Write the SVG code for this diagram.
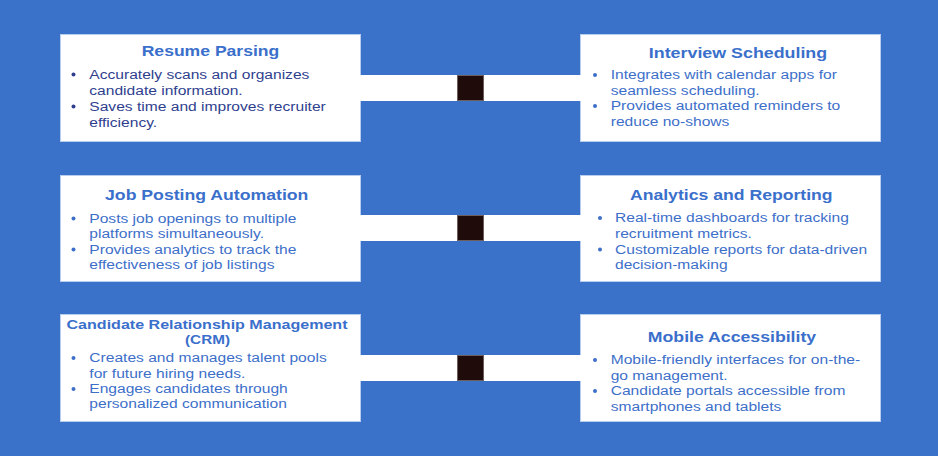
<svg xmlns="http://www.w3.org/2000/svg" width="938" height="456" viewBox="0 0 938 456">
<style>
.bg{fill:#3a71c9}
.box{fill:#ffffff;stroke:#b9cdef;stroke-width:1}
.band{fill:#ffffff}
.sq{fill:#1f0c0a;stroke:#6e5e5c;stroke-width:1}
.t{font-family:"Liberation Sans",Arial,sans-serif;font-weight:700;font-size:15px;fill:#3a6fcb;text-anchor:middle}
.tc{font-size:13px}
.b{font-family:"Liberation Sans",Arial,sans-serif;font-size:13.5px;fill:#3d6fc9}
.bd{fill:#3d6fc9}
.navy .b{fill:#2f3f8e}
.navy .bd{fill:#2f3f8e}
</style>
<rect class="bg" x="0" y="0" width="938" height="456"/>
<g id="connectors">
<rect class="band" x="360" y="75" width="221" height="26"/>
<rect class="sq" x="457.5" y="75.5" width="26" height="25"/>
<rect class="band" x="360" y="215" width="221" height="26"/>
<rect class="sq" x="457.5" y="215.5" width="26" height="25"/>
<rect class="band" x="360" y="355" width="221" height="26"/>
<rect class="sq" x="457.5" y="355.5" width="26" height="25"/>
</g>
<g id="resume-parsing" class="navy">
<rect class="box" x="60.5" y="34.5" width="300" height="107"/>
<rect class="band" x="355" y="75" width="8" height="26"/>
<text class="t" x="210.5" y="56" textLength="137.6" lengthAdjust="spacingAndGlyphs">Resume Parsing</text>
<circle class="bd" cx="73.5" cy="74.5" r="2"/>
<circle class="bd" cx="73.5" cy="106.5" r="2"/>
<g transform="translate(89.3 0) scale(1.155 1) translate(-89.3 0)">
<text class="b" x="89.3" y="79">Accurately scans and organizes</text>
<text class="b" x="89.3" y="95">candidate information.</text>
<text class="b" x="89.3" y="111">Saves time and improves recruiter</text>
<text class="b" x="89.3" y="127">efficiency.</text>
</g>
</g>
<g id="interview-scheduling">
<rect class="box" x="580.5" y="34.5" width="300" height="107"/>
<rect class="band" x="578" y="75" width="8" height="26"/>
<text class="t" x="738" y="58" textLength="178.3" lengthAdjust="spacingAndGlyphs">Interview Scheduling</text>
<circle class="bd" cx="595" cy="75" r="2"/>
<circle class="bd" cx="595" cy="106" r="2"/>
<g transform="translate(610.7 0) scale(1.155 1) translate(-610.7 0)">
<text class="b" x="610.7" y="79.5">Integrates with calendar apps for</text>
<text class="b" x="610.7" y="95">seamless scheduling.</text>
<text class="b" x="610.7" y="110.5">Provides automated reminders to</text>
<text class="b" x="610.7" y="126">reduce no-shows</text>
</g>
</g>
<g id="job-posting-automation">
<rect class="box" x="60.5" y="175.5" width="300" height="106"/>
<rect class="band" x="355" y="215" width="8" height="26"/>
<text class="t" x="206.7" y="199.5" textLength="203.3" lengthAdjust="spacingAndGlyphs">Job Posting Automation</text>
<circle class="bd" cx="73.5" cy="218.5" r="2"/>
<circle class="bd" cx="73.5" cy="249.5" r="2"/>
<g transform="translate(89.3 0) scale(1.155 1) translate(-89.3 0)">
<text class="b" x="89.3" y="223">Posts job openings to multiple</text>
<text class="b" x="89.3" y="238">platforms simultaneously.</text>
<text class="b" x="89.3" y="254">Provides analytics to track the</text>
<text class="b" x="89.3" y="269.5">effectiveness of job listings</text>
</g>
</g>
<g id="analytics-reporting">
<rect class="box" x="580.5" y="175.5" width="300" height="106"/>
<rect class="band" x="578" y="215" width="8" height="26"/>
<text class="t" x="731.3" y="199.5" textLength="202.7" lengthAdjust="spacingAndGlyphs">Analytics and Reporting</text>
<circle class="bd" cx="600" cy="218" r="2"/>
<circle class="bd" cx="600" cy="249.5" r="2"/>
<g transform="translate(615 0) scale(1.155 1) translate(-615 0)">
<text class="b" x="615" y="222.5">Real-time dashboards for tracking</text>
<text class="b" x="615" y="238">recruitment metrics.</text>
<text class="b" x="615" y="254">Customizable reports for data-driven</text>
<text class="b" x="615" y="269">decision-making</text>
</g>
</g>
<g id="crm">
<rect class="box" x="60.5" y="314.5" width="300" height="107"/>
<rect class="band" x="355" y="355" width="8" height="26"/>
<text class="t tc" x="207" y="329.3" textLength="281" lengthAdjust="spacingAndGlyphs">Candidate Relationship Management</text>
<text class="t tc" x="207.5" y="344.3" textLength="45" lengthAdjust="spacingAndGlyphs">(CRM)</text>
<circle class="bd" cx="73.5" cy="358" r="2"/>
<circle class="bd" cx="73.5" cy="389" r="2"/>
<g transform="translate(89.3 0) scale(1.155 1) translate(-89.3 0)">
<text class="b" x="89.3" y="362.5">Creates and manages talent pools</text>
<text class="b" x="89.3" y="378">for future hiring needs.</text>
<text class="b" x="89.3" y="393.5">Engages candidates through</text>
<text class="b" x="89.3" y="408.5">personalized communication</text>
</g>
</g>
<g id="mobile-accessibility">
<rect class="box" x="580.5" y="314.5" width="300" height="107"/>
<rect class="band" x="578" y="355" width="8" height="26"/>
<text class="t" x="732" y="341.5" textLength="168.3" lengthAdjust="spacingAndGlyphs">Mobile Accessibility</text>
<circle class="bd" cx="595" cy="360" r="2"/>
<circle class="bd" cx="595" cy="391" r="2"/>
<g transform="translate(610.7 0) scale(1.155 1) translate(-610.7 0)">
<text class="b" x="610.7" y="364.5">Mobile-friendly interfaces for on-the-</text>
<text class="b" x="610.7" y="380">go management.</text>
<text class="b" x="610.7" y="395.5">Candidate portals accessible from</text>
<text class="b" x="610.7" y="411">smartphones and tablets</text>
</g>
</g>
</svg>
